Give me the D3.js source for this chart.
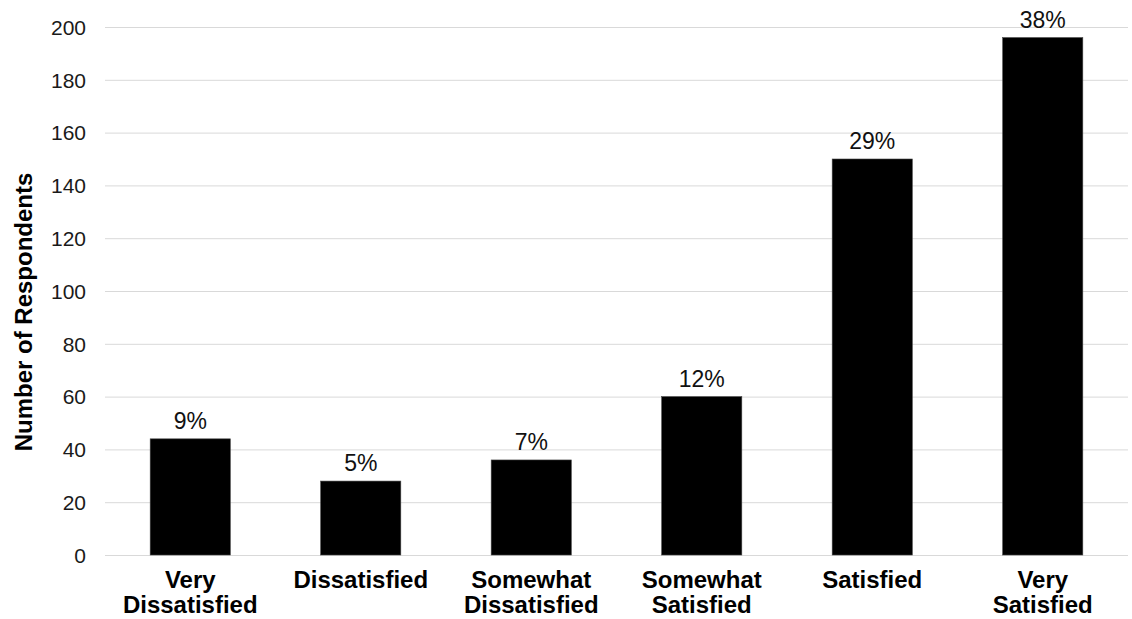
<!DOCTYPE html>
<html><head><meta charset="utf-8">
<script src="https://cdn.jsdelivr.net/npm/d3@7"></script>
<style>body{margin:0;background:#fff}svg{display:block}</style>
</head><body>
<script>
const categories = [["Very","Dissatisfied"],["Dissatisfied"],["Somewhat","Dissatisfied"],["Somewhat","Satisfied"],["Satisfied"],["Very","Satisfied"]];
const counts = [44, 28, 36, 60, 150, 196];
const percentLabels = ["9%","5%","7%","12%","29%","38%"];
const yTicks = [0,20,40,60,80,100,120,140,160,180,200];
const yTitle = "Number of Respondents";

const W = 1132, H = 619;
const m = {left:105, right:4, top:27, bottom:64};
const svg = d3.select("body").append("svg").attr("width",W).attr("height",H);
const font = "Liberation Sans, Arial, sans-serif";

const x = d3.scaleBand().domain(d3.range(categories.length)).range([m.left, W-m.right]).paddingInner(0.53).paddingOuter(0.265);
const y = d3.scaleLinear().domain([0,200]).range([H-m.bottom, m.top]);

// gridlines
const yAxis = d3.axisLeft(y).tickValues(yTicks).tickSize(-(W-m.left-m.right)).tickPadding(19);
const gy = svg.append("g").attr("transform",`translate(${m.left},0)`).call(yAxis);
gy.select(".domain").remove();
gy.selectAll(".tick line").attr("stroke","#d9d9d9").attr("stroke-width",1);
gy.selectAll(".tick text").attr("font-family",font).attr("font-size",21).attr("fill","#1a1a1a").attr("dy","0.35em");

// bars
svg.append("g").selectAll("rect").data(counts).join("rect")
  .attr("x",(d,i)=>x(i)).attr("width",x.bandwidth())
  .attr("y",d=>y(d)).attr("height",d=>y(0)-y(d))
  .attr("fill","#000").attr("stroke","#444").attr("stroke-width",0.6);

// percent labels
svg.append("g").selectAll("text").data(counts).join("text")
  .attr("x",(d,i)=>x(i)+x.bandwidth()/2).attr("y",d=>y(d)-10)
  .attr("text-anchor","middle").attr("font-family",font).attr("font-size",23).attr("fill","#111")
  .text((d,i)=>percentLabels[i]);

// category labels
const xl = svg.append("g").selectAll("text").data(categories).join("text")
  .attr("x",(d,i)=>x(i)+x.bandwidth()/2).attr("y",588)
  .attr("text-anchor","middle").attr("font-family",font).attr("font-size",24).attr("font-weight","bold").attr("fill","#000");
xl.selectAll("tspan").data((d,i)=>d.map(t=>({t,i}))).join("tspan")
  .attr("x",d=>x(d.i)+x.bandwidth()/2).attr("dy",(d,j)=>j===0?0:25).text(d=>d.t);

// y title
svg.append("text").attr("transform",`translate(32,312) rotate(-90)`)
  .attr("text-anchor","middle").attr("font-family",font).attr("font-size",24).attr("font-weight","bold").attr("fill","#000")
  .text(yTitle);
</script>
</body></html>
